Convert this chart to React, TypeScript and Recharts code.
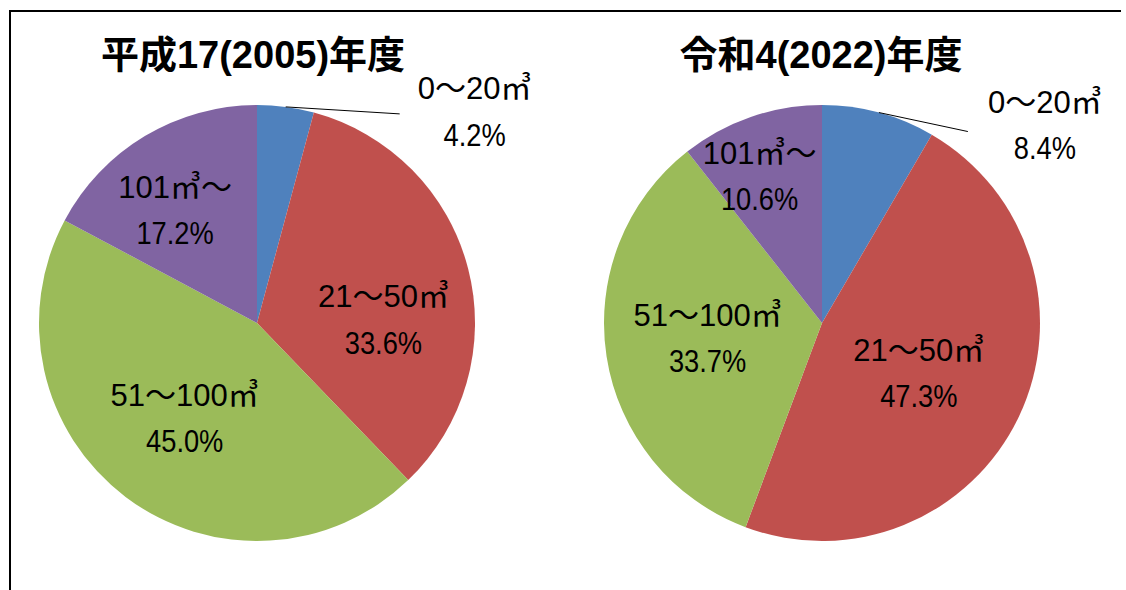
import { PieChart, Pie, Cell } from "recharts";

const categories = ["0～20㎥", "21～50㎥", "51～100㎥", "101㎥～"];
const share2005 = [4.2, 33.6, 45.0, 17.2];
const share2022 = [8.4, 47.3, 33.7, 10.6];
const titles = ["平成17(2005)年度", "令和4(2022)年度"];

const colors = ["#4F81BD", "#C0504D", "#9BBB59", "#8064A2"];
const FONT = "'Liberation Sans', 'Noto Sans CJK JP', sans-serif";
const RADIAN = Math.PI / 180;

const W = 1126;
const H = 590;
const R = 218;

// label placement per slice: radius ratio, angle shift (deg, clockwise)
const labelRatio2005 = [0, 0.58, 0.55, 0.64];
const labelShift2005 = [0, 13, 0, -5];
const labelRatio2022 = [0, 0.5, 0.53, 0.73];
const labelShift2022 = [0, 2, 1, -4];
// outside label for the small first slice: [line end dx, dy, text dx, dy]
const outside2005 = [114, 7, 189, 5];
const outside2022 = [89, 19, 166, 13];

const toRows = (vals: number[]) =>
  categories.map((name, i) => ({ name, value: vals[i] }));

function TwoLine({ x, y, name, value }: any) {
  return (
    <g transform={`translate(${x},${y})`}>
      <text
        x={0}
        y={-23}
        textAnchor="middle"
        dominantBaseline="central"
        fontFamily={FONT}
        fontSize={31}
        fill="#000"
      >
        {name}
      </text>
      <g transform="scale(0.88,1)">
        <text
          x={0}
          y={23}
          textAnchor="middle"
          dominantBaseline="central"
          fontFamily={FONT}
          fontSize={31}
          fill="#000"
        >
          {value.toFixed(1)}%
        </text>
      </g>
    </g>
  );
}

const makeLabel =
  (ratio: number[], shift: number[], outside: number[]) => (props: any) => {
    const { cx, cy, midAngle, outerRadius, index, name, value } = props;
    if (index === 0) {
      const ax = cx + outerRadius * Math.cos(-midAngle * RADIAN);
      const ay = cy + outerRadius * Math.sin(-midAngle * RADIAN);
      return (
        <g>
          <line
            x1={ax}
            y1={ay}
            x2={ax + outside[0]}
            y2={ay + outside[1]}
            stroke="#000"
            strokeWidth={1}
          />
          <TwoLine x={ax + outside[2]} y={ay + outside[3]} name={name} value={value} />
        </g>
      );
    }
    const a = (midAngle - shift[index]) * RADIAN;
    const r = outerRadius * ratio[index];
    return (
      <TwoLine
        x={cx + r * Math.cos(-a)}
        y={cy + r * Math.sin(-a)}
        name={name}
        value={value}
      />
    );
  };

export default function App() {
  return (
    <div style={{ position: "relative", width: W, height: H, background: "#fff", overflow: "hidden" }}>
      <style>{`html,body{margin:0;padding:0;overflow:hidden;}`}</style>
      <div
        style={{
          position: "absolute",
          left: 9,
          top: 10,
          width: 1112,
          height: H,
          borderTop: "2px solid #000",
          borderLeft: "2px solid #000",
          boxSizing: "border-box",
        }}
      />
      <PieChart
        width={W}
        height={H}
        margin={{ top: 0, right: 0, bottom: 0, left: 0 }}
        style={{ position: "absolute", left: 0, top: 0 }}
      >
        <text x={253} y={55} textAnchor="middle" dominantBaseline="central" fontFamily={FONT} fontWeight="bold" fontSize={38}>
          {titles[0]}
        </text>
        <text x={821} y={55} textAnchor="middle" dominantBaseline="central" fontFamily={FONT} fontWeight="bold" fontSize={38}>
          {titles[1]}
        </text>
        <Pie
          data={toRows(share2005)}
          dataKey="value"
          nameKey="name"
          cx={257}
          cy={323}
          outerRadius={R}
          startAngle={90}
          endAngle={-270}
          stroke="none"
          labelLine={false}
          label={makeLabel(labelRatio2005, labelShift2005, outside2005)}
          isAnimationActive={false}
        >
          {colors.map((c, i) => (
            <Cell key={i} fill={c} />
          ))}
        </Pie>
        <Pie
          data={toRows(share2022)}
          dataKey="value"
          nameKey="name"
          cx={822}
          cy={323}
          outerRadius={R}
          startAngle={90}
          endAngle={-270}
          stroke="none"
          labelLine={false}
          label={makeLabel(labelRatio2022, labelShift2022, outside2022)}
          isAnimationActive={false}
        >
          {colors.map((c, i) => (
            <Cell key={i} fill={c} />
          ))}
        </Pie>
      </PieChart>
    </div>
  );
}
